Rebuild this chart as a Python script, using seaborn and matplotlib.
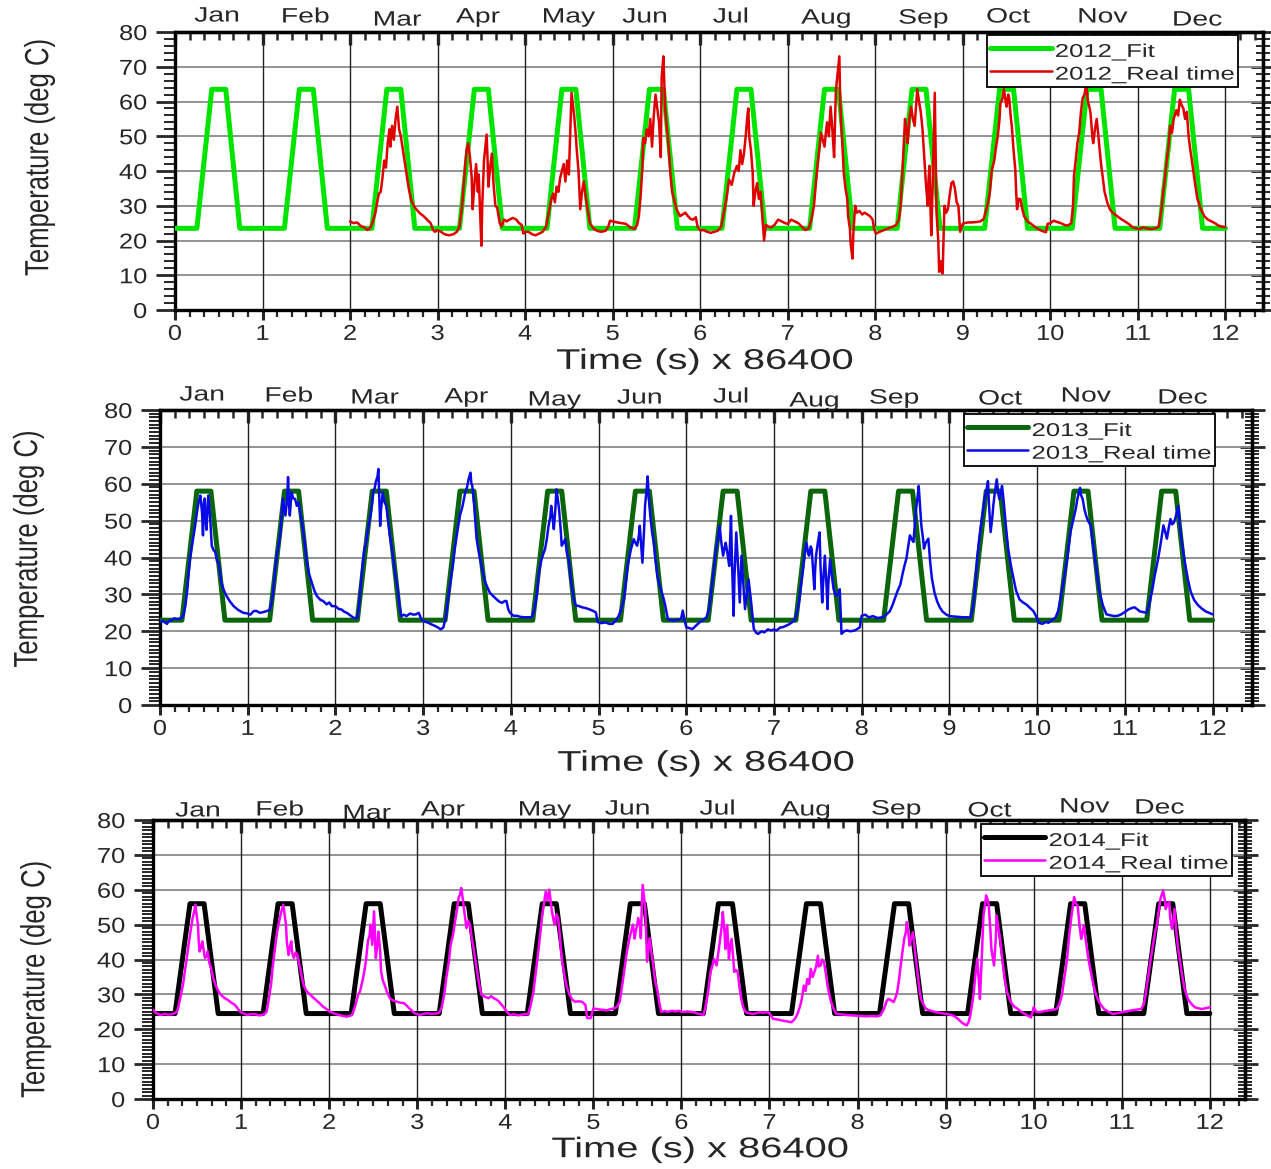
import matplotlib
matplotlib.use("Agg")
import matplotlib.pyplot as plt
import seaborn as sns
import pandas as pd
from matplotlib.ticker import MultipleLocator
from matplotlib.patheffects import AbstractPathEffect
from matplotlib.transforms import Affine2D

sns.set_style("white")
plt.rcParams['font.family'] = ['Liberation Sans', 'DejaVu Sans']

# ---------------- data ----------------
months = ["Jan", "Feb", "Mar", "Apr", "May", "Jun", "Jul", "Aug", "Sep", "Oct", "Nov", "Dec"]
years = [2012, 2013, 2014]
x_ticks = list(range(13))
y_ticks = [0, 10, 20, 30, 40, 50, 60, 70, 80]

# trapezoidal fit: base / plateau temperature per year, and daily phase of breakpoints
fit_base = [23.5, 23.0, 24.5]
fit_peak = [63.5, 58.0, 56.0]
fit_phase = [0.25, 0.42, 0.58, 0.74]
n_days = 12

rt_2012 = [
    (2.00,25.5),(2.04,25.0),(2.08,25.2),(2.12,24.2),(2.16,23.8),(2.20,23.0),(2.23,23.6),(2.26,25.5),(2.29,28),(2.31,31),
    (2.33,33.5),(2.35,34),(2.37,38),(2.39,43),(2.41,41),(2.43,48),(2.45,52),(2.46,47),(2.48,53),(2.50,49),(2.52,55),
    (2.54,58.5),(2.56,52),(2.58,50),(2.61,45),(2.64,40),(2.67,35),(2.70,31.5),(2.74,29.5),(2.79,28),(2.84,27),(2.88,26),
    (2.92,25),(2.95,23),(2.97,22.5),(3.00,23),
    (3.04,22.5),(3.08,21.8),(3.13,21.5),(3.18,21.8),(3.22,22.5),(3.25,24),(3.28,30),(3.31,40),(3.33,46),(3.35,48),(3.37,44),
    (3.39,38),(3.40,29),(3.42,36),(3.44,42),(3.46,34),(3.47,39),(3.49,25),(3.50,18.5),(3.51,30),(3.53,43),(3.55,48),
    (3.56,50.5),(3.57,44),(3.58,35.5),(3.60,41),(3.62,45),(3.64,36),(3.66,30),(3.68,29.5),(3.71,25),(3.73,24),(3.76,26),
    (3.79,25.5),(3.82,26),(3.86,26.5),(3.90,26),(3.93,25),(3.96,24.5),(3.98,22),(4.00,22.5),
    (4.04,22.5),(4.08,21.8),(4.12,21.5),(4.16,22),(4.20,22.5),(4.24,24),(4.27,28),(4.30,32),(4.32,33.5),(4.34,31),(4.36,35.5),
    (4.38,34),(4.40,38),(4.42,40),(4.44,42),(4.46,37),(4.48,43),(4.50,39),(4.52,55),(4.53,62.5),(4.55,58),(4.56,56),
    (4.58,50),(4.59,46),(4.61,40),(4.63,29),(4.65,34),(4.67,37),(4.69,33),(4.71,29.5),(4.74,25),(4.78,23.5),(4.82,22.8),
    (4.87,22.5),(4.92,22.8),(4.95,24),(4.97,25.7),(5.00,25.5),
    (5.05,25.2),(5.10,25),(5.15,24.8),(5.20,23.8),(5.25,23.3),(5.28,24.5),(5.30,27),(5.32,33),(5.34,41),(5.35,49.5),
    (5.37,48),(5.39,52),(5.41,50),(5.43,55),(5.45,47),(5.47,56),(5.49,62),(5.51,58),(5.53,54),(5.55,44),(5.56,67),
    (5.58,73),(5.59,65),(5.60,58),(5.62,52),(5.63,50),(5.65,43),(5.66,39),(5.68,34),(5.70,32),(5.73,29),(5.77,27),
    (5.80,27.5),(5.83,28),(5.86,27),(5.89,26.2),(5.92,26),(5.95,26.7),(5.97,24),(6.00,22.9),
    (6.04,23),(6.08,22.5),(6.12,22.2),(6.16,22.5),(6.20,22.8),(6.24,24),(6.27,28),(6.30,32),(6.33,37.5),(6.36,36),
    (6.39,39.5),(6.42,41.5),(6.44,40),(6.46,46),(6.48,42),(6.50,45),(6.52,50),(6.54,56),(6.55,58),(6.56,50),(6.58,46),
    (6.60,39.5),(6.61,30),(6.63,34),(6.65,36.5),(6.67,32),(6.69,34),(6.71,27),(6.73,20),(6.75,24.5),(6.78,24),
    (6.81,23.8),(6.85,24.5),(6.89,26),(6.93,25.5),(6.97,25),(7.00,24.8),
    (7.04,26),(7.08,25.5),(7.12,25),(7.16,24),(7.20,23),(7.24,23.5),(7.27,26),(7.30,30),(7.32,36),(7.34,41.5),(7.36,46),
    (7.38,51),(7.40,49),(7.42,47),(7.44,52),(7.45,54),(7.47,50),(7.49,58.5),(7.51,52),(7.53,44),(7.55,63),(7.57,68),
    (7.59,73),(7.60,60),(7.61,54),(7.63,45),(7.64,39.5),(7.66,35),(7.68,32),(7.69,27),(7.71,23.5),(7.72,19),(7.74,14.8),
    (7.75,22),(7.77,30),(7.79,28),(7.82,28.5),(7.85,27.5),(7.88,28),(7.91,27.5),(7.94,27),(7.97,26),(7.99,23),(8.01,22),
    (8.05,22.5),(8.10,23),(8.15,23.5),(8.20,24),(8.24,24.5),(8.27,26),(8.29,30),(8.31,39.5),(8.33,50),(8.34,55),(8.36,51),
    (8.37,48),(8.39,55),(8.41,58.5),(8.43,55),(8.45,53),(8.47,60),(8.48,63.5),(8.50,60),(8.52,57),(8.54,52),(8.56,44),
    (8.58,36),(8.60,30),(8.61,38),(8.62,41.5),(8.63,30),(8.64,21.5),(8.66,40),(8.68,62.5),(8.69,45),(8.70,28),(8.72,20),
    (8.73,11),(8.75,14),(8.76,11),(8.77,10.5),(8.78,20),(8.79,30),(8.81,28),(8.83,29),(8.85,33),(8.87,36.5),(8.89,37),
    (8.91,35),(8.93,31),(8.95,30),(8.97,22.5),(9.00,24.8),
    (9.02,25),(9.06,25.2),(9.10,25.2),(9.15,25.3),(9.20,25.5),(9.24,26.2),(9.27,29),(9.29,31),(9.31,34),(9.33,40),
    (9.36,43),(9.38,47),(9.40,50),(9.42,55),(9.43,59.5),(9.45,60.5),(9.47,63.5),(9.49,60),(9.50,58.5),(9.52,62),
    (9.53,61),(9.55,55),(9.56,53),(9.58,46),(9.60,40.5),(9.61,34),(9.62,29),(9.64,32),(9.66,31.9),(9.68,29),(9.70,27),
    (9.74,25.5),(9.78,24.8),(9.82,24),(9.86,23.3),(9.90,22.8),(9.95,22.4),(9.97,24.8),(10.00,25),
    (10.04,25.7),(10.08,25.3),(10.12,25),(10.16,24.5),(10.20,24.3),(10.24,25),(10.26,30),(10.27,38.5),(10.29,43),
    (10.31,48),(10.33,51),(10.35,57),(10.37,61),(10.39,62),(10.41,65),(10.43,60),(10.45,58),(10.46,56.5),(10.48,50),
    (10.49,48),(10.51,52),(10.53,55),(10.55,50),(10.56,47),(10.58,42),(10.60,38),(10.62,34),(10.65,31),(10.68,29),
    (10.71,28),(10.74,27.5),(10.78,26.7),(10.82,26),(10.87,25.2),(10.91,24.5),(10.94,23.8),(10.98,23.5),(11.02,23.3),
    (11.06,23.8),(11.10,23.5),(11.15,23.3),(11.20,23.5),(11.24,24),(11.27,29),(11.29,34),(11.31,38),(11.33,43),
    (11.35,47),(11.37,53),(11.39,51),(11.41,55),(11.44,57.5),(11.46,56),(11.48,60.5),(11.50,59),(11.52,58),(11.54,55),
    (11.56,57),(11.58,50),(11.60,46),(11.62,42.5),(11.65,37),(11.68,32),(11.72,29),(11.76,27),(11.80,26),(11.84,25.5),
    (11.88,25),(11.92,24.3),(11.96,24),(12.00,23.8),
]

rt_2013 = [
    (0.00,22.5),(0.03,22.8),(0.06,22.3),(0.08,22),(0.10,22.8),(0.13,23),(0.16,23.5),(0.20,23.3),(0.24,23.5),(0.27,24.5),
    (0.29,27),(0.31,31),(0.34,39.5),(0.37,44),(0.40,48.5),(0.42,52),(0.44,55),(0.46,56.8),(0.48,52),(0.49,46),(0.50,55),
    (0.51,56),(0.52,50),(0.53,47.5),(0.54,52),(0.55,56.8),(0.57,51.5),(0.59,43.2),(0.61,42),(0.63,41.5),(0.65,39),
    (0.67,38.5),(0.70,33.2),(0.73,31),(0.76,29.5),(0.80,28),(0.84,26.8),(0.89,25.8),(0.95,25),(1.00,24.8),(1.03,24.5),
    (1.07,25.5),(1.10,25.5),(1.14,25),(1.18,25.2),(1.22,25.5),(1.25,25.8),
    (1.27,27.5),(1.29,30.5),(1.31,36),(1.33,40.5),(1.35,43),(1.37,46),(1.39,52),(1.40,56),(1.42,53),(1.43,51.4),(1.45,56),
    (1.46,61.8),(1.47,55),(1.48,51.4),(1.50,57.7),(1.52,56),(1.54,55.9),(1.56,54),(1.58,55),(1.60,52),(1.62,49.5),
    (1.65,44),(1.67,39.5),(1.70,35.5),(1.73,33.2),(1.76,31),(1.79,29.5),(1.83,28.5),(1.86,28.2),(1.90,27.3),(1.93,27.8),
    (1.96,26.8),(2.00,26.8),(2.04,26),(2.07,25.9),(2.10,25.3),(2.13,25),(2.17,24.3),(2.21,23.6),(2.25,23.6),
    (2.27,27),(2.29,33),(2.31,38),(2.33,42.3),(2.35,44),(2.36,46),(2.38,49),(2.40,51.4),(2.42,55),(2.43,57.7),(2.45,59),
    (2.46,60.5),(2.48,62),(2.49,64),(2.50,56),(2.51,48.6),(2.52,53),(2.54,57.7),(2.56,55),(2.58,54),(2.60,50),(2.62,46),
    (2.64,43),(2.66,39.5),(2.68,36),(2.71,31.4),(2.73,27),(2.75,24.1),(2.78,24.5),(2.81,24.1),(2.85,24.8),(2.89,24.5),
    (2.92,24.6),(2.95,25),(2.98,23.2),(3.02,22.6),(3.06,22.3),(3.10,21.8),(3.14,21.4),(3.17,21),(3.20,20.5),(3.23,21),
    (3.26,24),
    (3.28,28),(3.31,33.2),(3.34,38),(3.36,42.3),(3.39,47),(3.42,51.4),(3.45,54),(3.48,57.7),(3.50,59),(3.52,61.4),
    (3.54,63),(3.55,60),(3.56,59.5),(3.58,55),(3.59,51.4),(3.61,45),(3.63,42),(3.65,39.5),(3.68,36),(3.71,33.2),
    (3.74,31.5),(3.76,30.5),(3.80,29.5),(3.84,28.6),(3.87,28),(3.90,27.7),(3.93,28.2),(3.95,28.2),(3.97,26),(3.99,25),
    (4.03,24.2),(4.07,24.2),(4.11,23.9),(4.15,23.8),(4.20,23.8),(4.24,23.8),
    (4.27,26),(4.30,30.5),(4.32,36),(4.35,39.5),(4.37,41),(4.39,42.3),(4.41,45),(4.43,48.6),(4.45,51),(4.46,54),(4.48,50),
    (4.49,47.7),(4.51,54),(4.52,58.5),(4.54,55),(4.55,53),(4.57,47),(4.58,43.2),(4.60,44),(4.62,45),(4.64,41),(4.66,39.5),
    (4.68,35),(4.70,31.4),(4.72,28.5),(4.74,27),(4.78,26.8),(4.81,26.5),(4.85,26.3),(4.89,26),(4.93,25.6),(4.97,25.1),
    (4.99,22.5),(5.03,22.2),(5.08,22.4),(5.12,22),(5.16,22),(5.20,23),(5.23,24.2),
    (5.26,26),(5.29,28.7),(5.31,33),(5.33,37.7),(5.35,40),(5.37,42.3),(5.39,44),(5.40,45),(5.42,44),(5.44,43.2),(5.46,46),
    (5.47,48.6),(5.49,42),(5.50,38.6),(5.52,48),(5.53,54),(5.55,59),(5.56,62),(5.57,57),(5.59,51.3),(5.61,47),(5.63,44),
    (5.65,39),(5.67,35),(5.69,33),(5.71,31.4),(5.74,29),(5.76,27),(5.79,23.3),(5.83,23),(5.86,22.9),(5.90,23.1),
    (5.94,23.3),(5.96,25.6),(5.98,23),(6.00,21.1),(6.04,20.8),(6.07,20.6),(6.11,21.5),(6.15,22.4),(6.19,23),(6.23,23.8),
    (6.26,26),(6.28,29.6),(6.31,36),(6.34,42.3),(6.36,45),(6.38,48.6),(6.40,44),(6.42,40.5),(6.44,43),(6.45,44),(6.47,41),
    (6.49,37.7),(6.51,51.3),(6.52,40),(6.54,24.2),(6.55,35),(6.57,46.8),(6.59,38),(6.61,27.8),(6.63,40.5),(6.65,33),
    (6.67,26),(6.69,30),(6.71,34.1),(6.73,30),(6.74,27.8),(6.76,23),(6.77,20.6),(6.80,19.5),(6.82,19.3),(6.86,20),
    (6.89,19.7),(6.93,20.5),(6.97,20.2),(7.00,20.5),(7.03,20.2),(7.07,21),(7.10,21.1),(7.14,21.5),(7.18,22),(7.21,22.5),
    (7.24,23.3),
    (7.27,26),(7.29,28.7),(7.31,33),(7.33,36.8),(7.35,41),(7.37,44.1),(7.39,41),(7.40,40.5),(7.42,43),(7.43,42.3),
    (7.45,35),(7.46,31.4),(7.47,37),(7.48,40.5),(7.50,44),(7.52,46.8),(7.53,38),(7.55,27.8),(7.56,33),(7.58,40.5),
    (7.60,32),(7.61,26),(7.62,33),(7.64,39.5),(7.66,35),(7.68,31.4),(7.70,30),(7.71,29.6),(7.73,30),(7.75,31.4),(7.76,25),
    (7.77,19.3),(7.80,20),(7.83,20.2),(7.87,20),(7.92,20.2),(7.95,20.6),(7.98,21.1),(7.99,23),(8.00,24.2),
    (8.04,24.5),(8.08,23.8),(8.13,24.1),(8.18,23.6),(8.24,23.8),(8.28,24.5),(8.32,25.4),(8.35,27),(8.38,29),(8.41,31),
    (8.44,32.6),(8.47,36),(8.49,38),(8.51,39.7),(8.53,43),(8.55,46),(8.57,45),(8.59,44.2),(8.61,50),(8.62,53.1),(8.64,57),
    (8.65,59.4),(8.67,52),(8.68,48.7),(8.70,45),(8.71,42.4),(8.73,44),(8.76,45.1),(8.78,39),(8.80,34.4),(8.83,30.5),
    (8.86,28.1),(8.89,26.5),(8.92,25.4),(8.96,24.6),(9.00,24.1),(9.05,24),(9.10,23.9),(9.15,23.8),(9.20,23.8),(9.24,23.7),
    (9.27,26.5),(9.29,31),(9.32,40.6),(9.34,45),(9.36,48.7),(9.38,52),(9.40,55.8),(9.42,58),(9.44,60.7),(9.45,55),
    (9.47,46.9),(9.49,51),(9.50,54),(9.52,58),(9.54,61.2),(9.56,57),(9.57,55.8),(9.59,58),(9.60,59.4),(9.62,55),(9.63,52.2),
    (9.65,47),(9.67,42.4),(9.70,38),(9.73,34.4),(9.76,31),(9.80,28.6),(9.84,27.8),(9.88,27.2),(9.92,26.3),(9.96,25.4),
    (9.99,24),(10.02,22.3),(10.06,22),(10.10,22.5),(10.13,22.3),(10.17,23),(10.21,23.7),
    (10.24,25.5),(10.26,28),(10.29,32),(10.32,36.2),(10.35,41),(10.38,46.9),(10.41,50),(10.44,53.1),(10.46,56),(10.48,58),
    (10.49,58.9),(10.50,57),(10.52,55.8),(10.54,53),(10.56,51.3),(10.58,50),(10.61,48.7),(10.63,45),(10.65,41.5),
    (10.68,36),(10.71,30.8),(10.75,27),(10.79,24.6),(10.84,24.3),(10.88,24.1),(10.92,24.2),(10.96,24.6),(11.00,25.2),
    (11.04,25.9),(11.08,26.3),(11.11,26.5),(11.14,26),(11.17,25.4),(11.21,25.2),(11.25,25),
    (11.28,27.5),(11.31,30.8),(11.34,35),(11.38,39.7),(11.41,44),(11.44,48.7),(11.46,47),(11.48,45.1),(11.50,48),
    (11.52,50.4),(11.54,49),(11.56,49.5),(11.58,51),(11.61,54),(11.63,48),(11.65,44.2),(11.67,41),(11.69,37.9),(11.72,34),
    (11.75,30.8),(11.79,28.5),(11.83,27.2),(11.87,26.3),(11.92,25.4),(11.96,25),(12.00,24.6),
]

rt_2014 = [
    (0.00,25.6),(0.03,24.8),(0.06,24.3),(0.09,24.1),(0.13,24.4),(0.17,24.2),(0.22,24.3),(0.26,24.8),(0.28,25.5),(0.31,29),
    (0.34,32.7),(0.37,38),(0.40,43.3),(0.42,47),(0.45,51.9),(0.47,54),(0.48,55.7),(0.50,52),(0.51,50),(0.52,45),(0.53,42.3),
    (0.55,44),(0.56,45.2),(0.58,42),(0.59,40.4),(0.61,41),(0.62,42.3),(0.64,39),(0.66,37.5),(0.68,35),(0.71,32.7),(0.74,31),
    (0.77,29.9),(0.81,29),(0.85,28.4),(0.89,27.6),(0.93,27),(0.96,26),(0.99,25),(1.03,24.5),(1.07,24.1),(1.11,24.3),
    (1.16,24.3),(1.20,24),(1.24,24.1),(1.27,24.5),(1.29,25),
    (1.31,28),(1.34,32.7),(1.36,38),(1.39,44.2),(1.41,48),(1.44,51.9),(1.46,54),(1.48,55.7),(1.50,52),(1.51,50),(1.52,45),
    (1.54,41.3),(1.55,43),(1.57,45.2),(1.58,42),(1.60,40.4),(1.62,42),(1.64,41.3),(1.67,37.5),(1.69,35),(1.71,32.7),
    (1.74,31),(1.77,30.3),(1.81,29.3),(1.85,28.4),(1.89,27.5),(1.93,26.5),(1.97,25.8),(2.01,25),(2.06,24.5),(2.11,24.1),
    (2.16,23.8),(2.20,23.6),(2.23,23.8),(2.26,24.1),(2.28,25.5),
    (2.30,27),(2.33,30),(2.35,30.8),(2.38,34),(2.40,36.6),(2.42,40),(2.44,45.2),(2.46,47),(2.47,50),(2.48,47),(2.49,44.2),
    (2.50,49),(2.51,53.8),(2.52,47),(2.53,40.4),(2.55,45),(2.56,48),(2.58,42),(2.59,36.6),(2.61,34),(2.63,32.7),(2.66,30.5),
    (2.69,28.9),(2.73,28.2),(2.77,27.9),(2.81,27.6),(2.85,27.5),(2.88,26.8),(2.91,26),(2.94,25.3),(2.97,24.6),(3.00,24.3),
    (3.03,24.1),(3.07,24.4),(3.11,24.6),(3.16,24.4),(3.20,24.5),(3.24,24.6),(3.26,25.2),(3.28,26.5),
    (3.31,30.5),(3.33,34.6),(3.36,39.5),(3.38,44.2),(3.41,47.5),(3.43,50.9),(3.45,54),(3.47,57.6),(3.49,59),(3.50,60.5),
    (3.52,57),(3.53,54.7),(3.55,51),(3.56,49),(3.58,51),(3.60,50),(3.62,46),(3.64,43.3),(3.66,40),(3.68,36.6),(3.71,32),
    (3.73,29.9),(3.77,29.3),(3.81,28.9),(3.84,29.5),(3.87,28.9),(3.90,28.5),(3.93,27.9),(3.96,27),(3.99,26),(4.02,25),
    (4.05,24.1),(4.10,24.3),(4.14,24),(4.17,24.1),(4.22,24.3),(4.26,24.3),
    (4.29,27),(4.32,30.8),(4.35,37),(4.38,43.3),(4.40,48),(4.42,52.8),(4.44,56),(4.46,59.5),(4.48,57),(4.50,60),(4.52,56),
    (4.53,53.8),(4.55,51),(4.56,50),(4.58,53),(4.60,51.9),(4.62,47),(4.63,43.3),(4.65,39),(4.67,35.6),(4.70,32),(4.73,29.9),
    (4.76,28.5),(4.79,27.9),(4.83,28),(4.87,27.9),(4.91,27),(4.93,23.2),(4.97,23.2),(5.00,26),(5.04,25.8),(5.08,25.6),
    (5.11,25.6),(5.15,25.4),(5.20,25.8),(5.24,26),(5.27,26.5),(5.30,27.9),
    (5.33,33),(5.36,38.5),(5.38,42),(5.41,46.1),(5.43,48),(5.45,50),(5.47,46),(5.48,48),(5.50,50),(5.51,51.9),(5.53,50),
    (5.54,46.1),(5.55,55),(5.56,61.4),(5.58,57),(5.59,54.7),(5.60,47),(5.61,39.4),(5.63,44),(5.64,46.1),(5.66,42),
    (5.68,38.5),(5.70,34),(5.73,30.8),(5.75,27.5),(5.77,25),(5.81,25.2),(5.85,25),(5.89,25.3),(5.93,25.1),(5.97,25.3),
    (6.02,24.9),(6.06,25.1),(6.10,25),(6.14,24.9),(6.18,24.5),(6.22,24.3),(6.25,24.1),
    (6.27,26),(6.29,28.7),(6.31,32),(6.33,36.4),(6.35,38),(6.37,40.2),(6.40,38.3),(6.42,42),(6.44,45.9),(6.46,50),
    (6.47,53.6),(6.49,48),(6.50,43),(6.52,49.8),(6.54,40.2),(6.55,43),(6.57,45.9),(6.59,40),(6.60,36.4),(6.62,37),
    (6.64,36.4),(6.66,32),(6.68,28.7),(6.70,26.5),(6.73,24.9),(6.77,24.6),(6.81,24.4),(6.85,24.6),(6.89,24.9),(6.93,24.7),
    (6.97,24.9),(7.00,24.6),(7.04,23),(7.09,22.8),(7.14,22.5),(7.19,22.3),(7.25,22),(7.29,23),
    (7.32,24.5),(7.35,26.8),(7.37,29),(7.39,32.5),(7.41,31),(7.43,34.4),(7.45,33),(7.47,37.3),(7.49,35),(7.51,36.4),
    (7.53,38),(7.55,41.1),(7.56,38),(7.58,38.3),(7.60,40),(7.62,39.2),(7.64,36),(7.66,32.5),(7.68,30),(7.70,27.8),
    (7.73,25.8),(7.76,24.4),(7.81,24.3),(7.87,24.1),(7.93,24),(8.00,23.9),(8.05,23.8),(8.10,23.7),(8.16,23.8),(8.22,23.7),
    (8.26,24),(8.30,25.8),
    (8.33,28),(8.35,28.7),(8.38,28.3),(8.41,27.8),(8.43,29),(8.45,30.6),(8.47,34),(8.49,38.3),(8.51,42),(8.53,45.9),
    (8.55,48),(8.56,50.7),(8.58,47),(8.59,44),(8.61,46),(8.63,47.8),(8.65,43),(8.68,36.4),(8.70,32),(8.72,28.7),(8.75,27),
    (8.78,25.8),(8.83,25.3),(8.89,24.9),(8.94,24.7),(9.00,24.4),(9.05,24.2),(9.09,23.9),(9.14,23),(9.18,22),(9.21,21.5),
    (9.24,21.1),(9.26,22),(9.28,23.9),
    (9.30,27),(9.32,30.6),(9.34,36),(9.36,40.2),(9.38,33),(9.39,28.7),(9.41,40),(9.43,52.6),(9.45,56),(9.46,58.4),(9.48,57),
    (9.49,55.5),(9.51,48),(9.52,43.1),(9.54,40),(9.55,38.3),(9.57,46),(9.58,52.6),(9.60,49),(9.62,45.9),(9.64,41),
    (9.67,34.5),(9.70,30.5),(9.74,27.8),(9.78,26.5),(9.82,25.8),(9.86,25),(9.90,24.4),(9.94,23.8),(9.97,23.4),(9.99,25),
    (10.00,26.3),(10.03,25),(10.07,24.9),(10.12,25.2),(10.17,25.4),(10.22,25.6),(10.26,25.8),
    (10.29,27),(10.32,29.7),(10.35,35),(10.38,40.2),(10.40,46),(10.43,52.6),(10.45,56),(10.46,57.9),(10.48,56),(10.50,55.5),
    (10.52,50),(10.54,45.9),(10.55,47),(10.57,49.8),(10.59,46),(10.61,42.1),(10.63,39),(10.65,36.4),(10.68,32.5),
    (10.71,29.7),(10.75,27.5),(10.80,25.8),(10.85,25),(10.90,24.4),(10.95,24.6),(11.00,24.9),(11.05,25.1),(11.11,25.4),
    (11.16,25.6),(11.22,25.8),(11.25,27),
    (11.27,29.7),(11.30,35),(11.33,40.2),(11.36,45),(11.38,48),(11.40,49.8),(11.42,54),(11.44,57.4),(11.46,59),(11.47,59.8),
    (11.49,57),(11.50,54.5),(11.52,56),(11.54,56.5),(11.55,52),(11.57,48.8),(11.59,52),(11.60,54.5),(11.62,48),(11.64,43.1),
    (11.66,40),(11.68,36.4),(11.71,32),(11.75,28.7),(11.79,27.3),(11.83,26.3),(11.87,26),(11.91,25.8),(11.95,26),
    (12.00,26.3),
]

# month label x positions (in days) as they sit above each panel
month_x_2012 = [0.48, 1.49, 2.54, 3.46, 4.50, 5.37, 6.35, 7.44, 8.55, 9.52, 10.60, 11.68]
month_x_2013 = [0.48, 1.47, 2.45, 3.49, 4.50, 5.47, 6.51, 7.46, 8.37, 9.58, 10.56, 11.66]
month_x_2014 = [0.51, 1.44, 2.43, 3.29, 4.45, 5.39, 6.41, 7.41, 8.44, 9.50, 10.58, 11.43]


# text in the reference is horizontally stretched; emulate with a glyph scaling effect
class GlyphScale(AbstractPathEffect):
    def __init__(self, sx=1.0, sy=1.0, anchor='left'):
        super().__init__()
        self._sx, self._sy, self._anchor = sx, sy, anchor

    def draw_path(self, renderer, gc, tpath, affine, rgbFace=None):
        cx = 0.0
        if self._anchor != 'left' and len(tpath.vertices):
            ext = tpath.get_extents()
            cx = 0.5 * (ext.x0 + ext.x1) if self._anchor == 'center' else ext.x1
        tr = Affine2D().translate(-cx, 0).scale(self._sx, self._sy).translate(cx, 0)
        renderer.draw_path(gc, tpath, tr + affine, rgbFace)


FX_XTICK = [GlyphScale(1.18, 1.0, 'center')]
FX_YTICK = [GlyphScale(1.18, 1.0, 'right')]
FX_MONTH = [GlyphScale(1.36, 1.0, 'center')]
FX_XLAB = [GlyphScale(1.40, 1.0, 'center')]
FX_LEG = [GlyphScale(1.0, 0.72, 'left')]
FX_YLAB = [GlyphScale(1.0, 1.3, 'left')]

# ---------------- layout ----------------
W, H = 1271, 1169
DPI = 100
fig = plt.figure(figsize=(W / DPI, H / DPI), dpi=DPI)
fig.patch.set_facecolor('white')

panels = [
    dict(year=2012, rt=rt_2012, mx=month_x_2012, px=(175, 1263, 32, 310), xr=12.43,
         fit_color='#00e400', rt_color='#e00000', legend_anchor=(0.977, 0.988),
         month_off=[11.5, 10.8, 8.6, 10.8, 10.8, 10.8, 10.8, 10, 10, 10.8, 10.8, 8.6], ymin=2,
         xl=(0.487, -0.14), yl=(-0.112, 0.55)),
    dict(year=2013, rt=rt_2013, mx=month_x_2013, px=(160, 1252, 410, 705), xr=12.45,
         fit_color='#0b660b', rt_color='#0a0ae6', legend_anchor=(0.966, 0.985),
         month_off=[10.8, 10, 8.6, 9.4, 7.2, 8.6, 9.4, 6.5, 8.6, 7.9, 10, 8.6], ymin=1,
         xl=(0.50, -0.155), yl=(-0.108, 0.53)),
    dict(year=2014, rt=rt_2014, mx=month_x_2014, px=(153, 1245, 820, 1099), xr=12.40,
         fit_color='#000000', rt_color='#ff00ff', legend_anchor=(0.988, 0.984),
         month_off=[6.5, 7.2, 4.6, 7.2, 7.2, 7.9, 7.9, 7.2, 7.9, 6.5, 9.4, 8.6], ymin=1,
         xl=(0.501, -0.137), yl=(-0.095, 0.43)),
]

for i, p in enumerate(panels):
    l, r, t, b = p['px']
    ax = fig.add_axes([l / W, 1 - b / H, (r - l) / W, (b - t) / H])
    base, peak = fit_base[i], fit_peak[i]

    # fit trapezoid built from read-off breakpoints
    ft, fT = [0.0], [base]
    for d in range(n_days):
        for ph, lvl in zip(fit_phase, [base, peak, peak, base]):
            ft.append(d + ph)
            fT.append(lvl)
    ft.append(float(n_days))
    fT.append(base)
    fit_df = pd.DataFrame({'t': ft, 'T': fT})
    rt_df = pd.DataFrame(p['rt'], columns=['t', 'T'])

    sns.lineplot(data=fit_df, x='t', y='T', ax=ax, color=p['fit_color'], linewidth=3.6,
                 sort=False, estimator=None, label=f"{p['year']}_Fit", zorder=3)
    sns.lineplot(data=rt_df, x='t', y='T', ax=ax, color=p['rt_color'], linewidth=1.8,
                 sort=False, estimator=None, label=f"{p['year']}_Real time", zorder=4)

    ax.set_xlim(0, p['xr'])
    ax.set_ylim(0, 80)
    ax.set_xticks(x_ticks)
    ax.set_yticks(y_ticks)
    ax.xaxis.set_minor_locator(MultipleLocator(1 / 6))
    ax.yaxis.set_minor_locator(MultipleLocator(p['ymin']))

    # grid: grey horizontals, black verticals
    for yv in y_ticks[1:-1]:
        ax.axhline(yv, color='#8a8a8a', lw=1.3, zorder=1)
    for xv in x_ticks[1:]:
        ax.axvline(xv, color='#222222', lw=1.0, zorder=1)

    for s in ax.spines.values():
        s.set_linewidth(2.4)
        s.set_color('black')
        s.set_visible(True)

    ax.tick_params(axis='x', which='major', direction='out', length=7, width=2.2,
                   labelsize=15.5, pad=3, bottom=True, top=False)
    ax.tick_params(axis='x', which='minor', direction='out', length=5, width=1.6, bottom=True, top=False)
    ax.tick_params(axis='y', which='major', direction='out', length=14, width=2.0,
                   labelsize=15.5, pad=6, left=True, right=False)
    ax.tick_params(axis='y', which='minor', direction='out', length=8, width=1.4, left=True, right=False)
    for lab in ax.get_xticklabels():
        lab.set_path_effects(FX_XTICK)
    for lab in ax.get_yticklabels():
        lab.set_path_effects(FX_YTICK)

    top = ax.secondary_xaxis('top')
    top.set_xticks(x_ticks)
    top.xaxis.set_minor_locator(MultipleLocator(1 / 6))
    top.tick_params(axis='x', which='major', direction='in', length=9, width=2.4, labeltop=False)
    top.tick_params(axis='x', which='minor', direction='in', length=6, width=1.8)
    top.spines['top'].set_linewidth(2.4)

    right = ax.secondary_yaxis('right')
    right.set_yticks(y_ticks)
    right.yaxis.set_minor_locator(MultipleLocator(p['ymin']))
    right.tick_params(axis='y', which='major', direction='inout', length=18, width=2.0, labelright=False)
    right.tick_params(axis='y', which='minor', direction='inout', length=10, width=1.4)
    right.spines['right'].set_linewidth(2.4)

    xlab = ax.set_xlabel('Time (s) x 86400', fontsize=20.5)
    xlab.set_path_effects(FX_XLAB)
    ylab = ax.set_ylabel('Temperature (deg C)', fontsize=18.5)
    ylab.set_path_effects(FX_YLAB)
    ax.xaxis.set_label_coords(*p['xl'])
    ax.yaxis.set_label_coords(*p['yl'])

    for m, mxv, off in zip(months, p['mx'], p['month_off']):
        ax.annotate(m, xy=(mxv, 1.0), xycoords=('data', 'axes fraction'),
                    xytext=(0, off), textcoords='offset points',
                    ha='center', va='center', fontsize=15, annotation_clip=False,
                    path_effects=FX_MONTH)

    leg = ax.legend(loc='upper right', bbox_to_anchor=p['legend_anchor'], borderaxespad=0,
                    fontsize=18.5, frameon=True, fancybox=False, edgecolor='black',
                    framealpha=1, handlelength=2.4, handletextpad=0.12, borderpad=0.1,
                    labelspacing=-0.05)
    leg.get_frame().set_linewidth(1.3)
    leg.set_zorder(10)
    for txt in leg.get_texts():
        txt.set_path_effects(FX_LEG)

fig.savefig('out.png', dpi=DPI, facecolor='white')
